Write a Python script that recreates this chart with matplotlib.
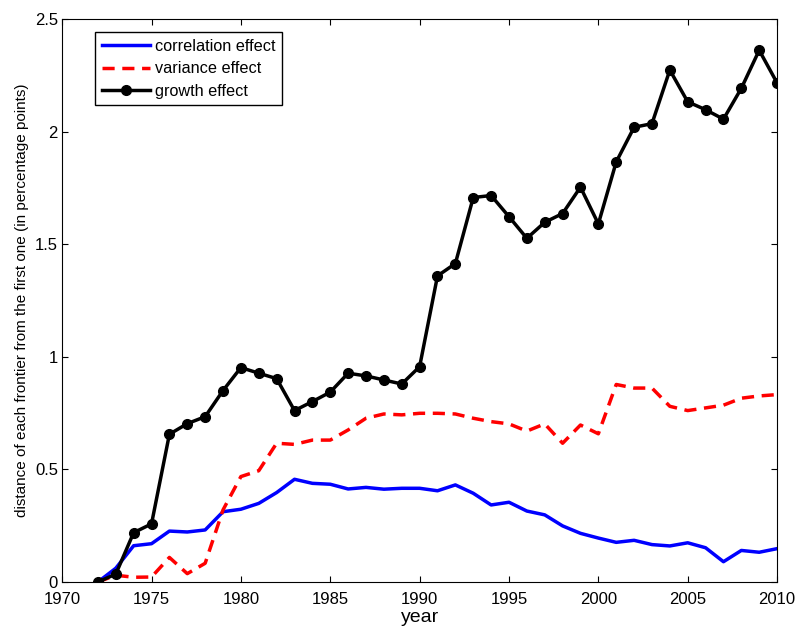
import numpy as np
import matplotlib.pyplot as plt

plt.rcParams['font.family'] = ['Liberation Sans', 'DejaVu Sans']

years = list(range(1972, 2011))

correlation = [0.0, 0.061, 0.161, 0.170, 0.226, 0.222, 0.231, 0.312, 0.323, 0.349,
               0.397, 0.456, 0.438, 0.434, 0.413, 0.420, 0.412, 0.416, 0.416, 0.405,
               0.431, 0.394, 0.342, 0.354, 0.315, 0.298, 0.249, 0.216, 0.195, 0.176,
               0.185, 0.166, 0.160, 0.174, 0.152, 0.090, 0.140, 0.132, 0.148]

variance = [0.0, 0.030, 0.021, 0.022, 0.109, 0.037, 0.083, 0.320, 0.468, 0.494,
            0.616, 0.611, 0.630, 0.630, 0.675, 0.727, 0.746, 0.742, 0.749, 0.749,
            0.746, 0.727, 0.712, 0.702, 0.670, 0.702, 0.616, 0.697, 0.658, 0.877,
            0.861, 0.861, 0.780, 0.761, 0.773, 0.785, 0.816, 0.826, 0.832]

growth = [0.0, 0.035, 0.219, 0.258, 0.656, 0.703, 0.734, 0.850, 0.952, 0.927,
          0.903, 0.761, 0.801, 0.843, 0.927, 0.915, 0.897, 0.879, 0.956, 1.359,
          1.414, 1.707, 1.716, 1.622, 1.526, 1.597, 1.636, 1.753, 1.590, 1.865,
          2.019, 2.035, 2.273, 2.132, 2.097, 2.055, 2.192, 2.361, 2.216]

fig = plt.figure(figsize=(7.97, 6.27), dpi=100)
ax = fig.add_axes([0.078, 0.0718, 0.897, 0.898])

ax.plot(years, correlation, color='blue', lw=2.5, label='correlation effect')
ax.plot(years, variance, color='red', lw=2.5, linestyle=(0, (3.5, 2.2)), label='variance effect')
ax.plot(years, growth, color='black', lw=2.5, marker='o', markersize=7, label='growth effect')

ax.set_xlim(1970, 2010)
ax.set_ylim(0, 2.5)
ax.set_xticks(range(1970, 2011, 5))
ax.set_yticks([0, 0.5, 1, 1.5, 2, 2.5])
ax.set_yticklabels(['0', '0.5', '1', '1.5', '2', '2.5'])
ax.tick_params(direction='in', top=True, right=True, labelsize=12, length=4)
ax.tick_params(axis='x', pad=7)
ax.tick_params(axis='y', pad=3)

ax.set_xlabel('year', fontsize=14, labelpad=2)
ax.set_ylabel('distance of each frontier from the first one (in percentage points)', fontsize=11, labelpad=4)

leg = ax.legend(loc='upper left', bbox_to_anchor=(0.046, 0.976), borderaxespad=0, fontsize=11.7,
                fancybox=False, framealpha=1, edgecolor='black', handlelength=3.0,
                borderpad=0.4, labelspacing=0.45, handletextpad=0.3)
leg.get_frame().set_linewidth(1.0)

fig.savefig('out.png', dpi=100)
